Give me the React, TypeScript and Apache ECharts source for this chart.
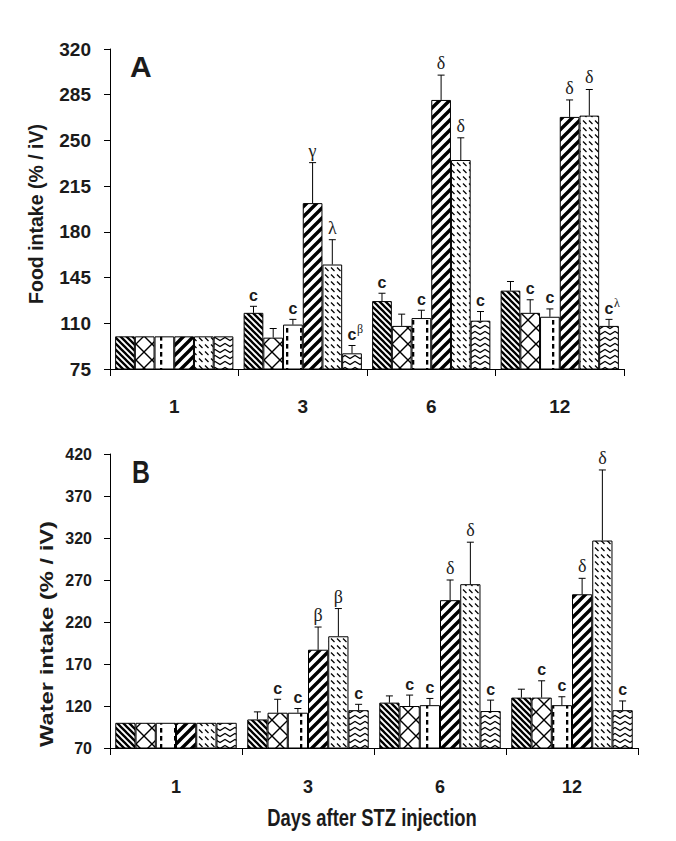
import React, { useEffect, useRef } from 'react';
import * as echarts from 'echarts';

// ---------- data ----------
const days = ['1', '3', '6', '12'];
const foodTicks = [75, 110, 145, 180, 215, 250, 285, 320];
const waterTicks = [70, 120, 170, 220, 270, 320, 370, 420];

// six treatment groups (rows) x four days (columns)
const foodMeans = [
  [100, 118, 127, 135],
  [100, 99, 108, 118],
  [100, 109, 114, 115],
  [100, 202, 281, 268],
  [100, 155, 235, 269],
  [100, 87, 112, 108],
];
const foodErrors = [
  [0, 5, 6, 7],
  [0, 7, 9, 10],
  [0, 4, 6, 6],
  [0, 31, 19, 13],
  [0, 19, 17, 20],
  [0, 6, 7, 5],
];
const foodMarks = [
  ['', 'c', 'c', ''],
  ['', '', '', 'c'],
  ['', 'c', 'c', 'c'],
  ['', 'γ', 'δ', 'δ'],
  ['', 'λ', 'δ', 'δ'],
  ['', 'c', 'c', 'c'],
];
const foodSups = [
  ['', '', '', ''],
  ['', '', '', ''],
  ['', '', '', ''],
  ['', '', '', ''],
  ['', '', '', ''],
  ['', 'β', '', 'λ'],
];

const waterMeans = [
  [100, 104, 124, 130],
  [100, 112, 120, 130],
  [100, 112, 121, 121],
  [100, 187, 246, 253],
  [100, 203, 265, 317],
  [100, 115, 114, 115],
];
const waterErrors = [
  [0, 9, 8, 10],
  [0, 16, 13, 20],
  [0, 5, 8, 10],
  [0, 27, 24, 19],
  [0, 33, 50, 84],
  [0, 7, 13, 11],
];
const waterMarks = [
  ['', '', '', ''],
  ['', 'c', 'c', 'c'],
  ['', 'c', 'c', 'c'],
  ['', 'β', 'δ', 'δ'],
  ['', 'β', 'δ', 'δ'],
  ['', 'c', 'c', 'c'],
];
const waterSups = [
  ['', '', '', ''],
  ['', '', '', ''],
  ['', '', '', ''],
  ['', '', '', ''],
  ['', '', '', ''],
  ['', '', '', ''],
];

const panelLetters = ['A', 'B'];
const yNames = ['Food intake (% / iV)', 'Water intake (% / iV)'];
const xName = 'Days after STZ injection';

// ---------- styles ----------
const SANS = "'Liberation Sans', Arial, sans-serif";
const SERIF = "'Liberation Serif', 'Times New Roman', serif";
const INK = '#1b1b1b';
const GAP = 0.08;

function tile(w: number, h: number, draw: (c: CanvasRenderingContext2D) => void) {
  const c = document.createElement('canvas');
  c.width = w;
  c.height = h;
  const ctx = c.getContext('2d')!;
  ctx.fillStyle = '#fff';
  ctx.fillRect(0, 0, w, h);
  ctx.strokeStyle = '#000';
  ctx.fillStyle = '#000';
  ctx.lineCap = 'butt';
  draw(ctx);
  return { image: c.toDataURL(), repeat: 'repeat', imageWidth: w, imageHeight: h };
}

function diag(ctx: CanvasRenderingContext2D, s: number, down: boolean) {
  ctx.beginPath();
  for (let k = -1; k <= 1; k++) {
    if (down) {
      ctx.moveTo(k * s - 2, -2);
      ctx.lineTo(k * s + s + 2, s + 2);
    } else {
      ctx.moveTo(k * s - 2, s + 2);
      ctx.lineTo(k * s + s + 2, -2);
    }
  }
  ctx.stroke();
}

function buildPatterns() {
  return [
    tile(6, 6, (c) => { c.lineWidth = 2.3; diag(c, 6, true); }),
    tile(16, 16, (c) => { c.lineWidth = 1.4; diag(c, 16, true); diag(c, 16, false); }),
    tile(14, 8, (c) => { c.fillRect(6, 0, 2.3, 4.6); }),
    tile(10, 10, (c) => { c.lineWidth = 3.4; diag(c, 10, false); }),
    tile(6, 7, (c) => {
      c.lineWidth = 1.2;
      c.beginPath();
      c.moveTo(1, 1.5);
      c.lineTo(4.5, 5);
      c.stroke();
    }),
    tile(10, 6, (c) => {
      c.lineWidth = 1.2;
      c.beginPath();
      c.moveTo(-5, 1.5);
      c.lineTo(0, 4.5);
      c.lineTo(5, 1.5);
      c.lineTo(10, 4.5);
      c.lineTo(15, 1.5);
      c.stroke();
    }),
  ];
}

function barSeries(panel: number, means: number[][], patterns: any[]) {
  return means.map((vals, i) => ({
    type: 'bar',
    xAxisIndex: panel,
    yAxisIndex: panel,
    data: vals,
    barGap: '0%',
    barCategoryGap: GAP * 100 + '%',
    silent: true,
    itemStyle: { color: patterns[i], borderColor: '#000', borderWidth: 1 },
  }));
}

function errorSeries(
  panel: number,
  means: number[][],
  errs: number[][],
  marks: string[][],
  sups: string[][]
) {
  return means.map((vals, i) => ({
    type: 'custom',
    xAxisIndex: panel,
    yAxisIndex: panel,
    silent: true,
    z: 4,
    data: vals.map((v, d) => [d, v, errs[i][d]]),
    encode: { x: 0, y: 1 },
    renderItem: (params: any, api: any) => {
      const d = api.value(0);
      const m = api.value(1);
      const e = api.value(2);
      const base = api.coord([d, m]);
      const top = api.coord([d, m + e]);
      const band = api.size([1, 0])[0];
      const bw = (band * (1 - GAP)) / 6;
      const cx = base[0] - (band * (1 - GAP)) / 2 + (i + 0.5) * bw;
      const children: any[] = [];
      if (e > 0) {
        children.push({
          type: 'line',
          shape: { x1: cx, y1: base[1], x2: cx, y2: top[1] },
          style: { stroke: '#000', lineWidth: 1 },
        });
        children.push({
          type: 'line',
          shape: { x1: cx - 3.5, y1: top[1], x2: cx + 3.5, y2: top[1] },
          style: { stroke: '#000', lineWidth: 1 },
        });
      }
      const mark = marks[i][params.dataIndex];
      if (mark) {
        const greek = mark !== 'c';
        children.push({
          type: 'text',
          x: cx,
          y: top[1] - 3,
          style: {
            text: mark,
            fontFamily: greek ? SERIF : SANS,
            fontWeight: greek ? 'normal' : 'bold',
            fontSize: greek ? 18 : 16,
            fill: INK,
            align: 'center',
            verticalAlign: 'bottom',
          },
        });
      }
      const sup = sups[i][params.dataIndex];
      if (sup) {
        children.push({
          type: 'text',
          x: cx + 5,
          y: top[1] - 10,
          style: {
            text: sup,
            fontFamily: SERIF,
            fontSize: 12,
            fill: '#222',
            align: 'left',
            verticalAlign: 'bottom',
          },
        });
      }
      return { type: 'group', children };
    },
  }));
}

function axisFont(size: number) {
  return { fontFamily: SANS, fontWeight: 'bold', fontSize: size, color: INK };
}

function buildOption() {
  const patterns = buildPatterns();
  const line = { show: true, lineStyle: { color: '#000', width: 1 } };
  const boldText = (text: string, size: number, align: string) => ({
    text,
    fontFamily: SANS,
    fontWeight: 'bold',
    fontSize: size,
    fill: INK,
    align,
    verticalAlign: 'middle',
  });
  return {
    animation: false,
    backgroundColor: '#fff',
    grid: [
      { left: 110, top: 49, width: 514, height: 320 },
      { left: 110, top: 454, width: 528, height: 294 },
    ],
    xAxis: [
      {
        gridIndex: 0,
        type: 'category',
        data: days,
        axisLine: line,
        axisTick: { show: true, length: 7, interval: 0, lineStyle: { color: '#000' } },
        axisLabel: { ...axisFont(19), margin: 28 },
        splitLine: { show: false },
      },
      {
        gridIndex: 1,
        type: 'category',
        data: days,
        axisLine: line,
        axisTick: { show: true, length: 7, interval: 0, lineStyle: { color: '#000' } },
        axisLabel: { ...axisFont(18), margin: 30 },
        splitLine: { show: false },
      },
    ],
    yAxis: [
      {
        gridIndex: 0,
        type: 'value',
        min: foodTicks[0],
        max: foodTicks[foodTicks.length - 1],
        axisLine: line,
        axisTick: { show: true, length: 6, customValues: foodTicks, lineStyle: { color: '#000' } },
        axisLabel: { ...axisFont(19), margin: 19, customValues: foodTicks },
        splitLine: { show: false },
      },
      {
        gridIndex: 1,
        type: 'value',
        min: waterTicks[0],
        max: waterTicks[waterTicks.length - 1],
        axisLine: line,
        axisTick: { show: true, length: 6, customValues: waterTicks, lineStyle: { color: '#000' } },
        axisLabel: { ...axisFont(16), margin: 18, customValues: waterTicks },
        splitLine: { show: false },
      },
    ],
    graphic: [
      { type: 'text', x: 130, y: 66, style: boldText(panelLetters[0], 30, 'left') },
      { type: 'text', x: 132, y: 473, scaleX: 0.8, style: boldText(panelLetters[1], 31, 'left') },
      { type: 'text', x: 36, y: 214, rotation: Math.PI / 2, style: boldText(yNames[0], 19.5, 'center') },
      { type: 'text', x: 47, y: 634, rotation: Math.PI / 2, scaleX: 1.32, style: boldText(yNames[1], 18, 'center') },
      { type: 'text', x: 372, y: 818, scaleX: 0.8, style: boldText(xName, 23, 'center') },
    ],
    series: [
      ...barSeries(0, foodMeans, patterns),
      ...barSeries(1, waterMeans, patterns),
      ...errorSeries(0, foodMeans, foodErrors, foodMarks, foodSups),
      ...errorSeries(1, waterMeans, waterErrors, waterMarks, waterSups),
    ],
  };
}

export default function App() {
  const ref = useRef<HTMLDivElement>(null);
  useEffect(() => {
    const chart = echarts.init(ref.current!, null, { renderer: 'svg' });
    chart.setOption(buildOption() as any);
    return () => chart.dispose();
  }, []);
  return (
    <div
      ref={ref}
      style={{ position: 'absolute', left: 0, top: 0, width: 676, height: 841, background: '#fff' }}
    />
  );
}
